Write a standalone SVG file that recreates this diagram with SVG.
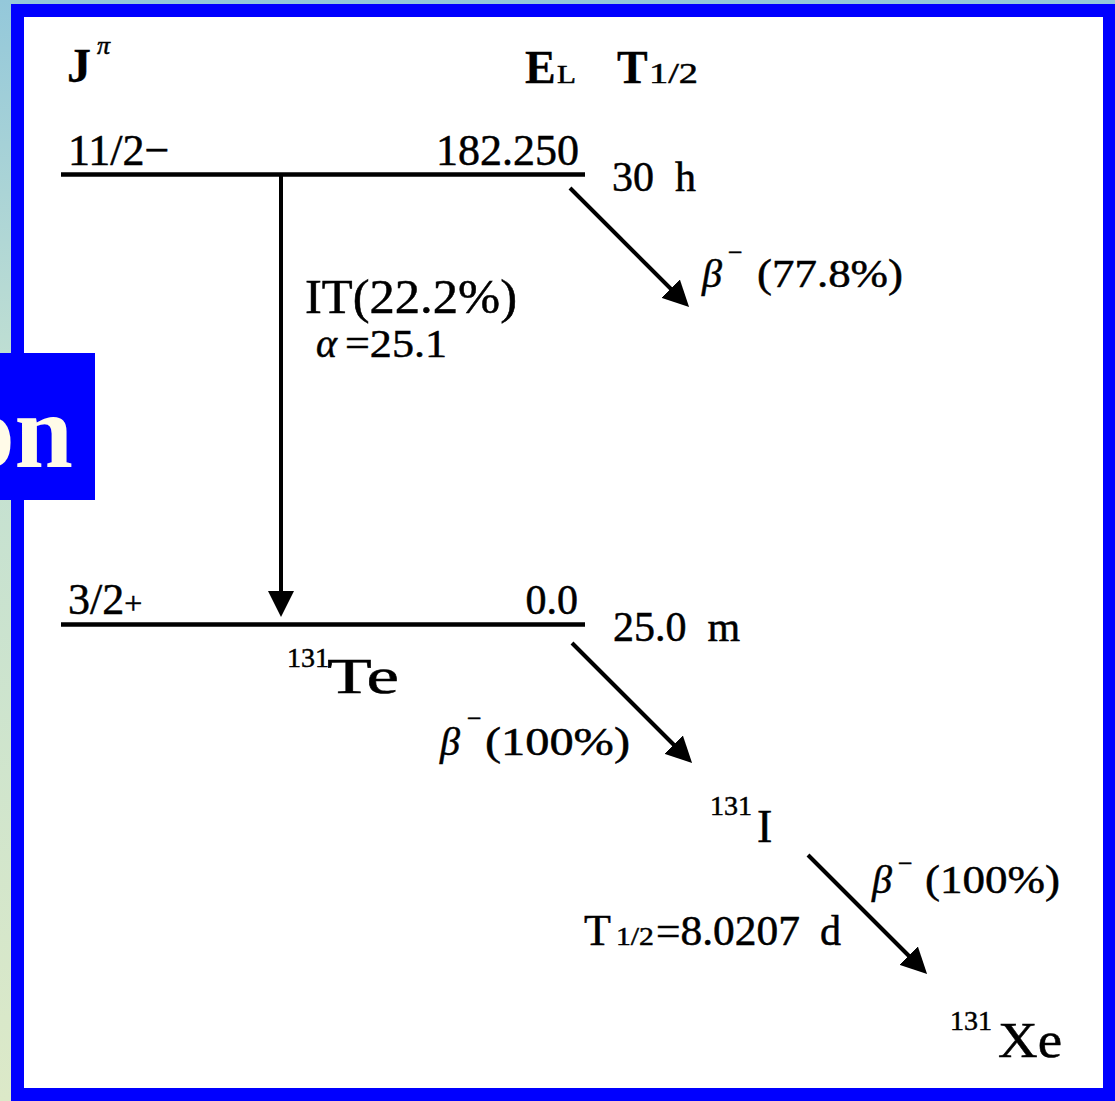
<svg xmlns="http://www.w3.org/2000/svg" width="1115" height="1101" viewBox="0 0 1115 1101">
<defs>
<linearGradient id="bg" x1="0" y1="0" x2="0" y2="1">
<stop offset="0" stop-color="#94c8da"/>
<stop offset="0.35" stop-color="#c2e0d2"/>
<stop offset="1" stop-color="#dce9c8"/>
</linearGradient>
<marker id="ah" markerUnits="userSpaceOnUse" markerWidth="27" markerHeight="26" refX="16" refY="13" orient="auto">
<path d="M0,0 L26,13 L0,26 Z" fill="#000"/>
</marker>
<style>
text{font-family:"Liberation Serif","Times New Roman",serif;fill:#000;stroke:#000;stroke-width:0.5}
.b{font-weight:bold;stroke-width:0.3}
.i{font-style:italic}
.lvl{stroke:#000;stroke-width:4.5;fill:none}
.tr{stroke:#000;stroke-width:4;fill:none;marker-end:url(#ah)}
</style>
</defs>
<rect x="0" y="0" width="1115" height="1101" fill="url(#bg)"/>
<rect x="11" y="4" width="1104" height="1097" fill="#0000ff"/>
<rect x="24" y="17" width="1079" height="1071" fill="#ffffff"/>
<g id="title-tab">
<rect x="0" y="353" width="95" height="147" fill="#0000ff"/>
<text x="73" y="467" class="b" font-size="105" text-anchor="end" style="fill:#fffbe8;stroke:none">on</text>
</g>
<g id="header">
<text x="67" y="82" class="b" font-size="48">J</text>
<text x="97" y="54" class="i" font-size="26">π</text>
<text x="525" y="83" class="b" font-size="46">E</text>
<text x="557" y="83" font-size="26" textLength="19" lengthAdjust="spacingAndGlyphs">L</text>
<text x="617" y="83" class="b" font-size="46">T</text>
<text x="649" y="83" font-size="30" textLength="49" lengthAdjust="spacingAndGlyphs">1/2</text>
</g>
<g id="connectors">
<line id="it" class="tr" x1="281" y1="176" x2="281" y2="607"/>
<line id="beta1" class="tr" x1="570" y1="188" x2="682" y2="300"/>
<line id="beta2" class="tr" x1="572" y1="643" x2="685" y2="756"/>
<line id="beta3" class="tr" x1="808" y1="855" x2="920" y2="967"/>
</g>
<g id="level-182">
<line class="lvl" x1="61" y1="174.5" x2="585" y2="174.5"/>
<text x="68" y="165" font-size="44">11/2−</text>
<text x="579" y="165" font-size="44" text-anchor="end">182.250</text>
<text x="612" y="191" font-size="42" xml:space="preserve">30  h</text>
</g>
<g id="level-0">
<line class="lvl" x1="61" y1="624.5" x2="585" y2="624.5"/>
<text x="68" y="614" font-size="44">3/2<tspan font-size="32">+</tspan></text>
<text x="578" y="614" font-size="42" text-anchor="end">0.0</text>
<text x="613" y="641" font-size="42" xml:space="preserve">25.0  m</text>
</g>
<g id="nuclide-Te">
<text x="287" y="667" font-size="28">131</text>
<text x="327" y="693" font-size="50" textLength="72" lengthAdjust="spacingAndGlyphs">Te</text>
</g>
<g id="nuclide-I">
<text x="710" y="815" font-size="28">131</text>
<text x="757" y="842" font-size="46">I</text>
<text x="584" y="945" font-size="44">T</text>
<text x="616" y="945" font-size="26" textLength="38" lengthAdjust="spacingAndGlyphs">1/2</text>
<text x="656" y="945" font-size="42" textLength="144" lengthAdjust="spacingAndGlyphs">=8.0207</text>
<text x="820" y="945" font-size="42">d</text>
</g>
<g id="nuclide-Xe">
<text x="950" y="1030" font-size="28">131</text>
<text x="998" y="1057" font-size="50" textLength="64" lengthAdjust="spacingAndGlyphs">Xe</text>
</g>
<g id="label-it">
<text x="305" y="313" font-size="48" textLength="212" lengthAdjust="spacingAndGlyphs">IT(22.2%)</text>
<text x="316" y="357" class="i" font-size="40">α</text>
<text x="345" y="357" font-size="40" textLength="102" lengthAdjust="spacingAndGlyphs">=25.1</text>
</g>
<g id="label-beta1">
<text x="702" y="287" class="i" font-size="40">β</text>
<text x="728" y="261" font-size="26">−</text>
<text x="757" y="287" font-size="40" textLength="146" lengthAdjust="spacingAndGlyphs">(77.8%)</text>
</g>
<g id="label-beta2">
<text x="440" y="755" class="i" font-size="40">β</text>
<text x="467" y="727" font-size="26">−</text>
<text x="485" y="755" font-size="40" textLength="145" lengthAdjust="spacingAndGlyphs">(100%)</text>
</g>
<g id="label-beta3">
<text x="872" y="893" class="i" font-size="40">β</text>
<text x="898" y="872" font-size="26">−</text>
<text x="925" y="893" font-size="40" textLength="135" lengthAdjust="spacingAndGlyphs">(100%)</text>
</g>
</svg>
